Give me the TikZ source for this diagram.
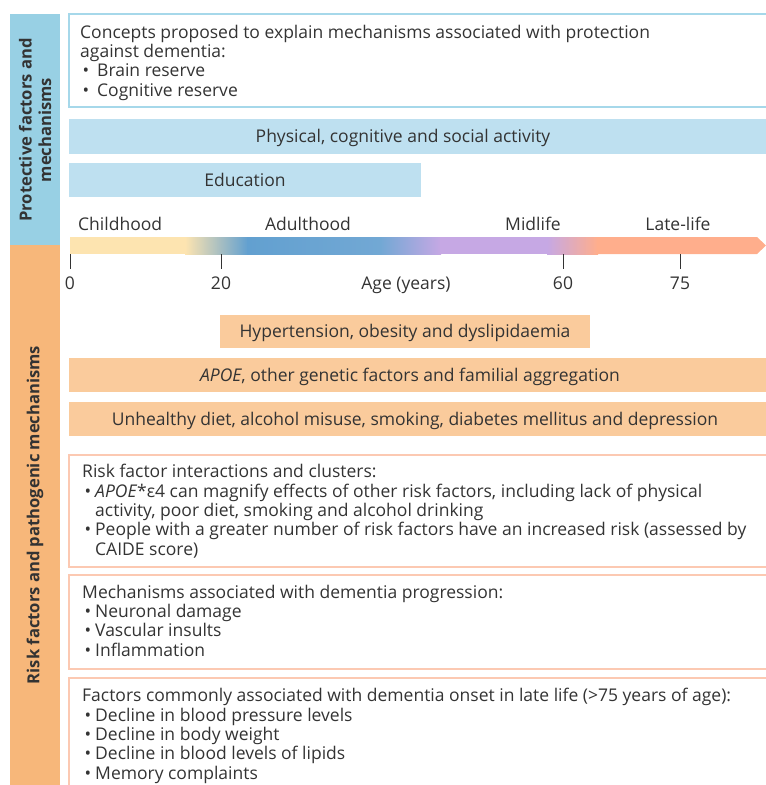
\documentclass[tikz,border=0pt]{standalone}
\usepackage{fontspec}
\setmainfont{Open Sans}
\usetikzlibrary{calc}
\definecolor{sideblue}{HTML}{98D0E4}
\definecolor{sideorange}{HTML}{F7B77A}
\definecolor{barblue}{HTML}{BEE0F0}
\definecolor{barorange}{HTML}{FACB9C}
\definecolor{lineblue}{HTML}{A6D8EA}
\definecolor{linepeach}{HTML}{FCC9B2}
\definecolor{txt}{HTML}{333333}
\definecolor{cream}{HTML}{FDE4B0}
\definecolor{agblue}{HTML}{62A0D0}
\definecolor{agblue2}{HTML}{72A8D4}
\definecolor{lavender}{HTML}{C6A8E4}
\definecolor{salmon}{HTML}{FFAE8C}
\newcommand\bul[1][13pt]{\makebox[#1][l]{\hspace{2.5pt}\textbullet}}
\newcommand\hang[1][13pt]{\hspace*{#1}}
\tikzset{
    lbl/.style={text=txt,inner sep=0pt,font=\fontsize{17.5}{19.3}\selectfont},
    lst/.style={lbl,anchor=base west,align=left},
    side/.style={lbl,rotate=90,align=center,font=\fontsize{16.6}{19.5}\selectfont\bfseries},
    frame/.style={line width=1.2pt},
    tick/.style={line width=1pt,draw=txt}
}
\begin{document}
\begin{tikzpicture}[x=1pt,y=-1pt]
                        \useasboundingbox (0,0) rectangle (766,785);
                        \fill[sideblue] (10,14) rectangle (60,245);
                        \fill[sideorange] (10,245) rectangle (60,790);
                        \node[side] (protect) at (35,130) {Protective factors and\\mechanisms};
                        \node[side] (risk) at (35,515) {Risk factors and pathogenic mechanisms};
                        \draw[frame,lineblue] (770,14) -- (69,14) -- (69,107) -- (770,107);
                        \node[lst] (concepts) at (80,96) {Concepts proposed to explain mechanisms associated with protection\\
                            against dementia:\\\bul[17pt]Brain reserve\\\bul[17pt]Cognitive reserve};
                        \fill[barblue] (69,119) rectangle (770,154);
                        \node[lbl,anchor=base] (physact) at (403,142) {Physical, cognitive and social activity};
                        \fill[barblue] (69,163) rectangle (421,197);
                        \node[lbl,anchor=base] (edu) at (245,186) {Education};
                        \node[lbl,anchor=base west] (child) at (78,230) {Childhood};
                        \node[lbl,anchor=base] (adult) at (308,230) {Adulthood};
                        \node[lbl,anchor=base] (mid) at (533,230) {Midlife};
                        \node[lbl,anchor=base] (late) at (678,230) {Late-life};
                        \fill[cream] (70,237) rectangle (186,254);
                        \shade[left color=cream,right color=agblue] (185,237) rectangle (248,254);
                        \shade[left color=agblue,right color=agblue2] (247,237) rectangle (381,254);
                        \shade[left color=agblue2,right color=lavender] (380,237) rectangle (441,254);
                        \fill[lavender] (440,237) rectangle (548,254);
                        \shade[left color=lavender,right color=salmon] (547,237) rectangle (598,254);
                        \fill[salmon] (597,237) -- (757,237) -- (766,245.5) -- (757,254) -- (597,254) -- cycle;
                        \foreach \x/\a in {70/0,221/20,563/60,680/75}{
                            \draw[tick] (\x,254) -- (\x,269);
                            \node[lbl,anchor=base] (a\a) at (\x,289) {\a};
                        }
                        \node[lbl,anchor=base] (age) at (406,289) {Age (years)};
                        \fill[barorange] (220,315) rectangle (590,348);
                        \node[lbl,anchor=base] (hyper) at (405,337) {Hypertension, obesity and dyslipidaemia};
                        \fill[barorange] (69,358) rectangle (770,392);
                        \node[lbl,anchor=base] (apoe) at (410,381) {\textit{APOE}, other genetic factors and familial aggregation};
                        \fill[barorange] (69,402) rectangle (770,436);
                        \node[lbl,anchor=base] (diet) at (415,425) {Unhealthy diet, alcohol misuse, smoking, diabetes mellitus and depression};
                        \draw[frame,linepeach] (770,455) -- (69,455) -- (69,567) -- (770,567);
                        \node[lst] (clusters) at (82,555) {Risk factor interactions and clusters:\\
                            \bul\textit{APOE}*ε4 can magnify effects of other risk factors, including lack of physical\\
                            \hang activity, poor diet, smoking and alcohol drinking\\
                            \bul People with a greater number of risk factors have an increased risk (assessed by\\
                            \hang CAIDE score)};
                        \draw[frame,linepeach] (770,575) -- (69,575) -- (69,669) -- (770,669);
                        \node[lst] (mechs) at (82,656) {Mechanisms associated with dementia progression:\\
                            \bul Neuronal damage\\\bul Vascular insults\\\bul Inflammation};
                        \draw[frame,linepeach] (770,678) -- (69,678) -- (69,790);
                        \node[lst] (onset) at (82,779) {Factors commonly associated with dementia onset in late life (>75 years of age):\\
                            \bul Decline in blood pressure levels\\\bul Decline in body weight\\
                            \bul Decline in blood levels of lipids\\\bul Memory complaints};
                    \end{tikzpicture}
\end{document}
